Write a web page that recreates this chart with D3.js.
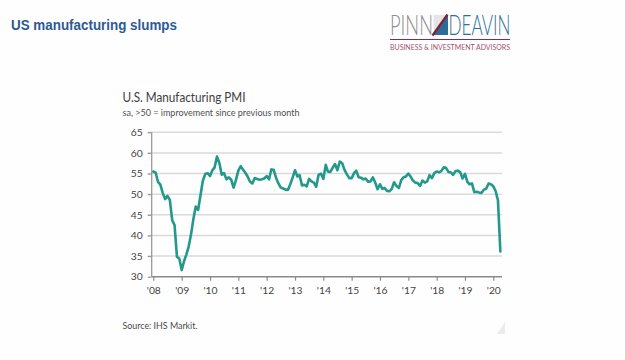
<!DOCTYPE html>
<html><head><meta charset="utf-8">
<script src="https://cdn.jsdelivr.net/npm/d3@7"></script>
<style>
html,body{margin:0;padding:0;background:#fff;}
svg{display:block;}
</style></head>
<body>
<svg id="c" width="625" height="360"></svg>
<script>
// ---- data (U.S. Manufacturing PMI, monthly, Jan 2008 – Apr 2020) ----
const pmi2008 = [55.5, 55.2, 53.0, 52.3, 50.3, 48.8, 49.6, 48.6, 43.7, 42.5, 34.8, 34.4];
const pmi2009 = [31.6, 33.8, 35.3, 37.3, 40.2, 44.0, 47.0, 46.2, 49.8, 53.3, 54.9, 55.1];
const pmi2010 = [54.4, 55.8, 56.5, 59.1, 57.6, 54.7, 55.1, 53.6, 54.1, 53.5, 51.6, 53.4];
const pmi2011 = [55.7, 56.8, 56.0, 55.2, 54.3, 53.0, 52.6, 53.9, 53.7, 53.5, 53.6, 53.8];
const pmi2012 = [54.4, 53.6, 56.0, 55.9, 54.0, 52.6, 51.6, 51.4, 51.1, 51.0, 52.4, 54.0];
const pmi2013 = [55.8, 54.3, 54.6, 52.1, 52.3, 51.9, 53.7, 53.1, 52.8, 51.8, 54.7, 55.0];
const pmi2014 = [53.7, 57.1, 55.5, 55.4, 56.4, 57.3, 55.8, 57.9, 57.5, 55.9, 54.8, 53.9];
const pmi2015 = [53.9, 55.1, 55.7, 54.1, 54.0, 53.6, 53.8, 53.0, 53.1, 54.1, 52.8, 51.2];
const pmi2016 = [52.4, 51.3, 51.5, 50.8, 50.7, 51.3, 52.9, 52.0, 51.5, 53.4, 54.1, 54.3];
const pmi2017 = [55.0, 54.2, 53.3, 52.8, 52.7, 52.0, 53.3, 52.8, 53.1, 54.6, 53.9, 55.1];
const pmi2018 = [55.5, 55.3, 55.6, 56.5, 56.4, 55.4, 55.3, 54.7, 55.6, 55.7, 55.3, 53.8];
const pmi2019 = [54.9, 53.0, 52.4, 52.6, 50.5, 50.6, 50.4, 50.3, 51.1, 51.3, 52.6, 52.4];
const pmi2020 = [51.9, 50.7, 48.5, 36.1];
const firstYear = 2008;
const yTicks = [30, 35, 40, 45, 50, 55, 60, 65];
const xTickYears = [2008, 2009, 2010, 2011, 2012, 2013, 2014, 2015, 2016, 2017, 2018, 2019, 2020];

const values = [].concat(pmi2008, pmi2009, pmi2010, pmi2011, pmi2012, pmi2013, pmi2014,
  pmi2015, pmi2016, pmi2017, pmi2018, pmi2019, pmi2020);
const series = values.map((v, i) => ({date: new Date(firstYear, i, 1), value: v}));

const svg = d3.select("#c");
svg.append("rect").attr("width", 625).attr("height", 360).attr("fill", "#fefefe");

// ---- slide header ----
svg.append("text").attr("x", 11).attr("y", 29.5)
  .attr("font-family", "Liberation Sans, Arial, sans-serif").attr("font-weight", "bold")
  .attr("font-size", 14.5).attr("fill", "#2d5995")
  .attr("textLength", 166).attr("lengthAdjust", "spacingAndGlyphs")
  .text("US manufacturing slumps");

// ---- logo ----
const logo = svg.append("g");
logo.append("text").attr("x", 390).attr("y", 35)
  .attr("font-family", "Lato, sans-serif").attr("font-weight", 300)
  .attr("font-size", 27).attr("fill", "#8c8c8c")
  .attr("textLength", 43).attr("lengthAdjust", "spacingAndGlyphs").text("PINN");
logo.append("path").attr("d", "M433.5,35 L448,15 L448,35 Z").attr("fill", "#2c6d98");
logo.append("path").attr("d", "M433.5,35 L433.5,15 L448,15 Z").attr("fill", "#b8b8b8").attr("opacity", 0.35);
logo.append("line").attr("x1", 432.5).attr("y1", 35.5).attr("x2", 447.5).attr("y2", 14.5)
  .attr("stroke", "#7d1f3c").attr("stroke-width", 2.2);
logo.append("text").attr("x", 448.5).attr("y", 35)
  .attr("font-family", "Lato, sans-serif").attr("font-weight", 300)
  .attr("font-size", 27).attr("fill", "#2d6f99")
  .attr("textLength", 62).attr("lengthAdjust", "spacingAndGlyphs").text("DEAVIN");
logo.append("line").attr("x1", 390).attr("x2", 510).attr("y1", 39.5).attr("y2", 39.5)
  .attr("stroke", "#8b2a48").attr("stroke-width", 1);
logo.append("text").attr("x", 390).attr("y", 50)
  .attr("font-family", "Lato, sans-serif").attr("font-size", 7)
  .attr("fill", "#a05573")
  .attr("textLength", 120).attr("lengthAdjust", "spacingAndGlyphs")
  .text("BUSINESS & INVESTMENT ADVISORS");

// ---- chart titles ----
const fontChart = "Lato, 'Source Sans Pro', sans-serif";
svg.append("text").attr("x", 122.5).attr("y", 101.7)
  .attr("font-family", fontChart).attr("font-size", 12.5).attr("fill", "#404040")
  .attr("textLength", 123).attr("lengthAdjust", "spacingAndGlyphs")
  .text("U.S. Manufacturing PMI");
svg.append("text").attr("x", 122.5).attr("y", 115.5)
  .attr("font-family", fontChart).attr("font-size", 8.6).attr("fill", "#505050")
  .attr("textLength", 177).attr("lengthAdjust", "spacingAndGlyphs")
  .text("sa, >50 = improvement since previous month");

// ---- scales ----
const x = d3.scaleTime()
  .domain([new Date(2008, 0, 1), new Date(2020, 0, 1)])
  .range([153.3, 493.3]);
const y = d3.scaleLinear().domain([30, 65]).range([276.7, 132.3]);
const plotLeft = 151.7, plotRight = 502;

// gridlines
svg.append("g").selectAll("line").data(yTicks.filter(d => d > 30)).join("line")
  .attr("x1", plotLeft - 4).attr("x2", plotRight)
  .attr("y1", d => y(d)).attr("y2", d => y(d))
  .attr("stroke", "#dadada").attr("stroke-width", 1.4);

// y axis
const yAxis = svg.append("g").attr("transform", `translate(${plotLeft},0)`)
  .call(d3.axisLeft(y).tickValues(yTicks).tickSize(4).tickPadding(5).tickFormat(d3.format("d")));
yAxis.select(".domain").attr("stroke", "#9a9a9a").attr("stroke-width", 1.3)
  .attr("d", `M0,${y(65)}V${y(30)}`);
yAxis.selectAll(".tick line").attr("stroke", "#9a9a9a").attr("stroke-width", 1.2);
yAxis.selectAll(".tick text").attr("font-family", fontChart).attr("font-size", 10.3)
  .attr("fill", "#444");

// x axis
const xAxis = svg.append("g").attr("transform", `translate(0,${y(30)})`)
  .call(d3.axisBottom(x).tickValues(xTickYears.map(yy => new Date(yy, 0, 1)))
    .tickSize(4).tickPadding(6)
    .tickFormat(d => "'" + d3.timeFormat("%y")(d)));
xAxis.select(".domain").attr("stroke", "#8a8a8a").attr("stroke-width", 1.4)
  .attr("d", `M${plotLeft},0H${plotRight}`);
xAxis.selectAll(".tick line").attr("stroke", "#8a8a8a").attr("stroke-width", 1.2);
xAxis.selectAll(".tick text").attr("font-family", fontChart).attr("font-size", 10.3)
  .attr("fill", "#444");

// line
const line = d3.line().x(d => x(d.date)).y(d => y(d.value));
svg.append("path").datum(series)
  .attr("d", line).attr("fill", "none")
  .attr("stroke", "#22998a").attr("stroke-width", 2.6)
  .attr("stroke-linejoin", "round").attr("stroke-linecap", "round");

// source
svg.append("text").attr("x", 122.5).attr("y", 329)
  .attr("font-family", fontChart).attr("font-size", 8.6).attr("fill", "#4a4a4a")
  .attr("textLength", 75).attr("lengthAdjust", "spacingAndGlyphs")
  .text("Source: IHS Markit.");

// faint corner shading (slide artefact)
svg.append("path").attr("d", "M497,334 L505,322 L505,334 Z").attr("fill", "#ececec");
</script>
</body></html>
